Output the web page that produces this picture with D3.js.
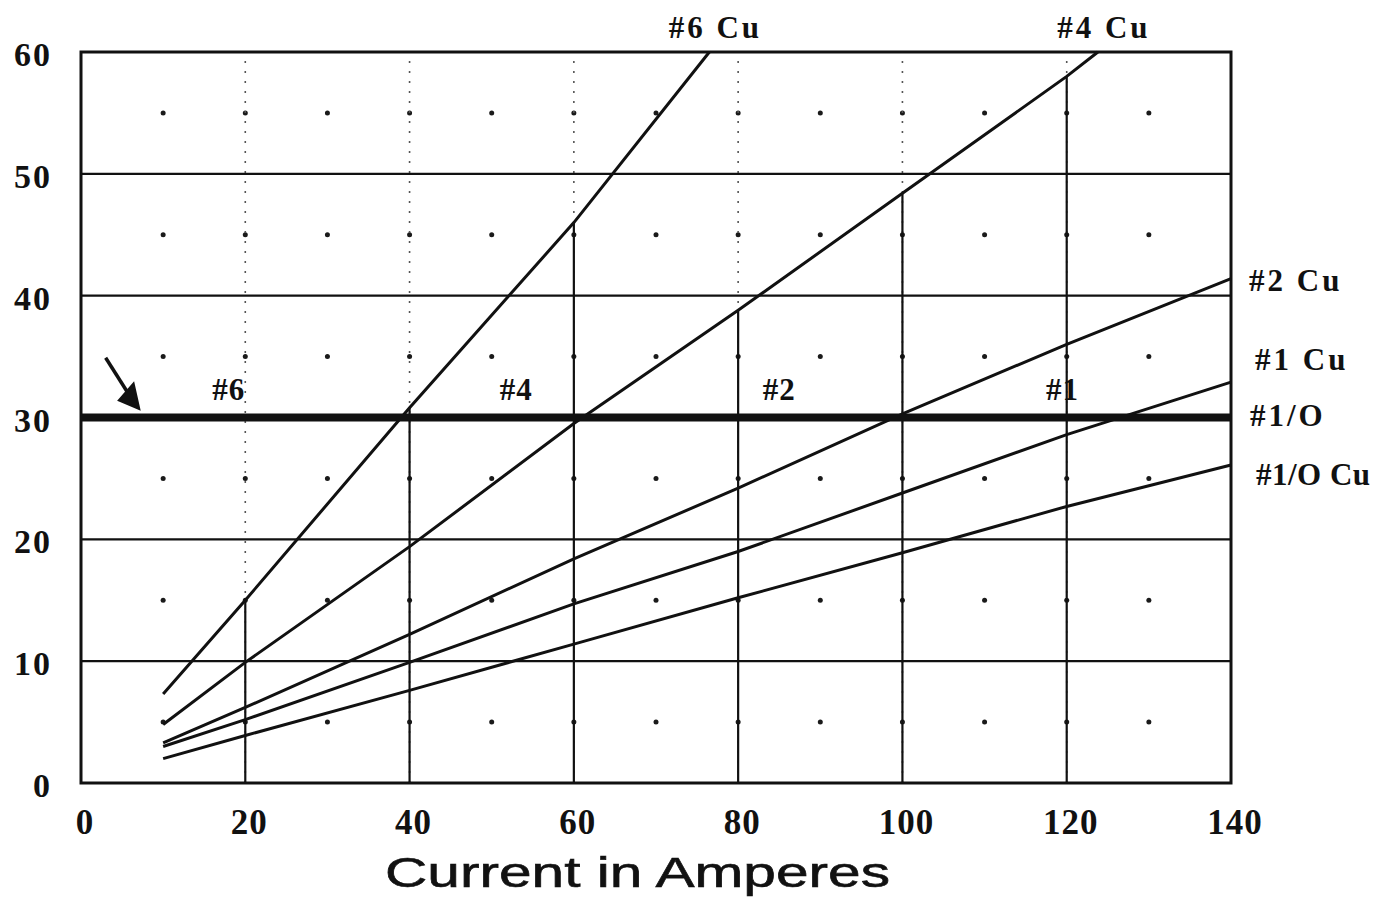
<!DOCTYPE html>
<html>
<head>
<meta charset="utf-8">
<script src="https://cdn.jsdelivr.net/npm/d3@7/dist/d3.min.js"></script>
<style>
  html, body { margin: 0; padding: 0; background: #ffffff; }
  svg { display: block; }
</style>
</head>
<body>
<svg id="chart" width="1382" height="901"></svg>
<script>
// ---------------- data ----------------
const xTicks = [0, 20, 40, 60, 80, 100, 120, 140];
const yTicks = [0, 10, 20, 30, 40, 50, 60];
const gridDotX = [10, 20, 30, 40, 50, 60, 70, 80, 90, 100, 110, 120, 130];
const gridDotY = [5, 15, 25, 35, 45, 55];

const cu6X = [10, 20, 40, 60, 76.5];
const cu6Y = [7.3, 15.0, 30.8, 46.0, 60];
const cu4X = [10, 20, 40, 60, 80, 100, 120, 123.8];
const cu4Y = [4.8, 9.9, 19.4, 29.5, 38.8, 48.4, 58.0, 60];
const cu2X = [10, 20, 40, 60, 80, 100, 120, 140];
const cu2Y = [3.3, 6.2, 12.2, 18.4, 24.2, 30.3, 36.0, 41.4];
const cu1X = [10, 20, 40, 60, 80, 100, 120, 140];
const cu1Y = [3.0, 5.2, 9.9, 14.7, 19.0, 23.8, 28.6, 32.9];
const cu10X = [10, 20, 40, 60, 80, 100, 120, 140];
const cu10Y = [2.0, 3.9, 7.6, 11.4, 15.2, 18.9, 22.7, 26.1];

const seriesNames = ["#6 Cu", "#4 Cu", "#2 Cu", "#1 Cu", "#1/O Cu"];

// limit line (aluminum) at 30
const limitX = [0, 140];
const limitY = [30, 30];
const limitName = "#1/O";
const alLabels = ["#6", "#4", "#2", "#1"];
const alLabelX = [18, 53, 85, 119.5];

const xTitle = "Current in Amperes";

// ---------------- layout ----------------
const svg = d3.select("#chart");
const x = d3.scaleLinear().domain([0, 140]).range([81, 1231]);
const y = d3.scaleLinear().domain([0, 60]).range([783, 52]);

const serif = "'Liberation Serif', 'DejaVu Serif', serif";
const sans = "'Liberation Sans', Arial, sans-serif";
const ink = "#111";

// grid dots
const dots = [];
gridDotX.forEach(gx => gridDotY.forEach(gy => dots.push([gx, gy])));
svg.append("g").selectAll("circle").data(dots).join("circle")
  .attr("cx", d => x(d[0])).attr("cy", d => y(d[1]))
  .attr("r", 2.5).attr("fill", "#1a1a1a");

// vertical grid lines (faint dotted)
const vGrid = xTicks.filter(t => t > 0 && t < 140);
svg.append("g").selectAll("line").data(vGrid).join("line")
  .attr("x1", d => x(d)).attr("x2", d => x(d))
  .attr("y1", y(0)).attr("y2", y(60))
  .attr("stroke", "#555").attr("stroke-width", 1.6)
  .attr("stroke-dasharray", "2,8");

// solid drop lines from top curve down to axis at each vertical grid
const allSeries = [
  {name: seriesNames[0], xs: cu6X, ys: cu6Y},
  {name: seriesNames[1], xs: cu4X, ys: cu4Y},
  {name: seriesNames[2], xs: cu2X, ys: cu2Y},
  {name: seriesNames[3], xs: cu1X, ys: cu1Y},
  {name: seriesNames[4], xs: cu10X, ys: cu10Y}
];
const drop = vGrid.map(v => {
  let m = 0;
  allSeries.forEach(s => s.xs.forEach((xx, i) => { if (xx === v && s.ys[i] > m) m = s.ys[i]; }));
  return [v, m];
}).filter(d => d[1] > 0);
svg.append("g").selectAll("line").data(drop).join("line")
  .attr("x1", d => x(d[0])).attr("x2", d => x(d[0]))
  .attr("y1", y(0)).attr("y2", d => y(d[1]))
  .attr("stroke", ink).attr("stroke-width", 2.2);

// horizontal grid lines
svg.append("g").selectAll("line").data(yTicks.filter(t => t > 0 && t < 60)).join("line")
  .attr("x1", x(0)).attr("x2", x(140))
  .attr("y1", d => y(d)).attr("y2", d => y(d))
  .attr("stroke", ink).attr("stroke-width", 2.4);

// frame
svg.append("rect")
  .attr("x", x(0)).attr("y", y(60))
  .attr("width", x(140) - x(0)).attr("height", y(0) - y(60))
  .attr("fill", "none").attr("stroke", ink).attr("stroke-width", 3);

// series lines
const line = d3.line().x(d => x(d[0])).y(d => y(d[1]));
svg.append("g").selectAll("path").data(allSeries).join("path")
  .attr("d", s => line(s.xs.map((xx, i) => [xx, s.ys[i]])))
  .attr("fill", "none").attr("stroke", ink).attr("stroke-width", 3);

// thick limit line
svg.append("path")
  .attr("d", line(limitX.map((xx, i) => [xx, limitY[i]])))
  .attr("stroke", ink).attr("stroke-width", 8).attr("fill", "none");

// arrow near left
svg.append("path")
  .attr("d", `M${x(3)},${y(34.9)} L${x(6.2)},${y(31.5)}`)
  .attr("stroke", ink).attr("stroke-width", 3.5).attr("fill", "none");
svg.append("path")
  .attr("d", `M${x(7.1)},${y(30.7)} L${x(4.6)},${y(31.4)} L${x(6.4)},${y(32.8)} Z`)
  .attr("fill", ink).attr("stroke", ink).attr("stroke-width", 2);

// y tick labels
svg.append("g").selectAll("text").data(yTicks).join("text")
  .attr("x", 52).attr("y", d => y(d) + 14)
  .attr("text-anchor", "end")
  .attr("font-family", serif).attr("font-weight", "bold")
  .attr("font-size", 34).attr("letter-spacing", 2).attr("fill", ink)
  .text(d => d);

// x tick labels
svg.append("g").selectAll("text").data(xTicks).join("text")
  .attr("x", d => x(d) + 4).attr("y", 834)
  .attr("text-anchor", "middle")
  .attr("font-family", serif).attr("font-weight", "bold")
  .attr("font-size", 35).attr("letter-spacing", 1).attr("fill", ink)
  .text(d => d);

// x-axis title
svg.append("text")
  .attr("x", 385).attr("y", 887)
  .attr("textLength", 505).attr("lengthAdjust", "spacingAndGlyphs")
  .attr("font-family", sans).attr("font-size", 43).attr("fill", ink)
  .attr("stroke", ink).attr("stroke-width", 0.6)
  .text(xTitle);

// series labels
const labelStyle = sel => sel.attr("font-family", serif).attr("font-weight", "bold")
  .attr("font-size", 31).attr("letter-spacing", 3).attr("fill", ink);
// top labels (#6 Cu, #4 Cu) centred over line ends
[0, 1].forEach(i => {
  const s = allSeries[i];
  svg.append("text").call(labelStyle)
    .attr("x", x(s.xs[s.xs.length - 1]) + 6).attr("y", 38)
    .attr("text-anchor", "middle").text(s.name);
});
// right labels
const rightDy = [0, 0, 12, -12, 20];
[2, 3].forEach(i => {
  const s = allSeries[i];
  svg.append("text").call(labelStyle)
    .attr("x", i === 3 ? 1255 : 1249)
    .attr("y", y(s.ys[s.ys.length - 1]) + rightDy[i])
    .text(s.name);
});
{
  const s = allSeries[4];
  svg.append("text").call(labelStyle)
    .attr("letter-spacing", 0.5)
    .attr("x", 1256)
    .attr("y", y(s.ys[s.ys.length - 1]) + rightDy[4])
    .text(s.name);
}
svg.append("text").call(labelStyle)
  .attr("x", 1250).attr("y", y(30) + 8).text(limitName);

// aluminum size labels along limit line
svg.append("g").selectAll("text").data(alLabels).join("text")
  .call(labelStyle)
  .attr("x", (d, i) => x(alLabelX[i])).attr("y", y(30) - 18)
  .attr("text-anchor", "middle").attr("letter-spacing", 1)
  .text(d => d);
</script>
</body>
</html>
